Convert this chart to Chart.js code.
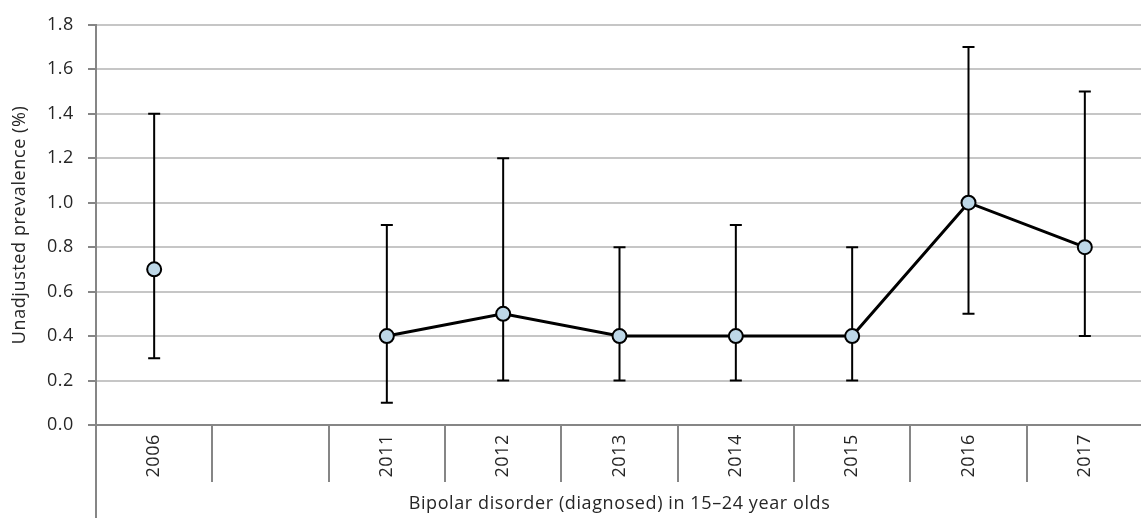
<!DOCTYPE html>
<html>
<head>
<meta charset="utf-8">
<script src="https://cdn.jsdelivr.net/npm/chart.js@4/dist/chart.umd.min.js"></script>
<style>
  html, body { margin: 0; padding: 0; background: #fff; overflow: hidden; }
  #wrap { width: 1152px; height: 518px; }
</style>
</head>
<body>
<div id="wrap"><canvas id="prevalenceChart" width="1152" height="518"></canvas></div>
<script>
'use strict';

var categories = ['2006', '', '2011', '2012', '2013', '2014', '2015', '2016', '2017'];
var prevalence = [0.7, null, 0.4, 0.5, 0.4, 0.4, 0.4, 1.0, 0.8];
var lowerCI = [0.3, null, 0.1, 0.2, 0.2, 0.2, 0.2, 0.5, 0.4];
var upperCI = [1.4, null, 0.9, 1.2, 0.8, 0.9, 0.8, 1.7, 1.5];
var yTicks = [0, 0.2, 0.4, 0.6, 0.8, 1.0, 1.2, 1.4, 1.6, 1.8];

var xTitle = 'Bipolar disorder (diagnosed) in 15\u201324 year olds';
var yTitle = 'Unadjusted prevalence (%)';

var fontFamily = '"Open Sans", "Noto Sans", sans-serif';
var fontSize = 18;
var textColor = '#262626';
var axisColor = '#868686';

/* slightly wider text, closer to the original font */
var spacing = {
	id: 'spacing',
	beforeUpdate: function (chart) { chart.ctx.letterSpacing = '0.6px'; },
	beforeDraw: function (chart) { chart.ctx.letterSpacing = '0.6px'; }
};

/* error bars behind the points */
var errorBars = {
	id: 'errorBars',
	beforeDatasetsDraw: function (chart) {
		var ctx = chart.ctx;
		var x = chart.scales.x;
		var y = chart.scales.y;
		ctx.save();
		ctx.strokeStyle = '#000';
		ctx.lineWidth = 2;
		for (var i = 0; i < categories.length; i++) {
			if (lowerCI[i] === null) continue;
			var px = x.getPixelForValue(i);
			var lo = y.getPixelForValue(lowerCI[i]);
			var hi = y.getPixelForValue(upperCI[i]);
			ctx.beginPath();
			ctx.moveTo(px, lo);
			ctx.lineTo(px, hi);
			ctx.moveTo(px - 6, lo);
			ctx.lineTo(px + 6, lo);
			ctx.moveTo(px - 6, hi);
			ctx.lineTo(px + 6, hi);
			ctx.stroke();
		}
		ctx.restore();
	}
};

/* y axis line running down through the category area, plus x axis title */
var axisExtras = {
	id: 'axisExtras',
	afterDraw: function (chart) {
		var ctx = chart.ctx;
		var area = chart.chartArea;
		ctx.save();
		ctx.strokeStyle = axisColor;
		ctx.lineWidth = 2;
		ctx.beginPath();
		ctx.moveTo(area.left, area.bottom);
		ctx.lineTo(area.left, chart.height);
		ctx.stroke();

		ctx.fillStyle = textColor;
		ctx.font = fontSize + 'px ' + fontFamily;
		ctx.textAlign = 'center';
		ctx.textBaseline = 'alphabetic';
		ctx.fillText(xTitle, (area.left + area.right) / 2, chart.height - 9);
		ctx.restore();
	}
};

var chartCtx = document.getElementById('prevalenceChart').getContext('2d');
var chart = new Chart(chartCtx, {
	type: 'line',
	data: {
		labels: categories,
		datasets: [{
			label: 'Prevalence',
			data: prevalence,
			borderColor: '#000',
			borderWidth: 3,
			tension: 0,
			spanGaps: false,
			pointRadius: 7,
			pointBorderWidth: 2,
			pointBorderColor: '#000',
			pointBackgroundColor: '#bdd7e7',
		}]
	},
	options: {
		responsive: false,
		animation: false,
		layout: { padding: { top: 23, right: 0, left: 0, bottom: 0 } },
		plugins: {
			legend: { display: false },
			tooltip: { enabled: false }
		},
		scales: {
			x: {
				type: 'category',
				offset: true,
				grid: {
					offset: true,
					drawOnChartArea: false,
					drawTicks: true,
					tickLength: 57,
					color: axisColor,
					lineWidth: 2
				},
				border: { color: axisColor, width: 2 },
				ticks: {
					autoSkip: false,
					maxRotation: 90,
					minRotation: 90,
					padding: -48,
					color: textColor,
					font: { family: fontFamily, size: fontSize }
				},
				afterFit: function (scale) { scale.height = 93; }
			},
			y: {
				min: 0,
				max: 1.8,
				afterBuildTicks: function (scale) {
					scale.ticks = yTicks.map(function (v) { return { value: v }; });
				},
				grid: {
					color: '#c6c6c6',
					lineWidth: 2,
					tickLength: 8,
					tickColor: axisColor
				},
				border: { color: axisColor, width: 2 },
				ticks: {
					padding: 14,
					color: textColor,
					font: { family: fontFamily, size: fontSize },
					callback: function (v) { return Number(v).toFixed(1); }
				},
				title: {
					display: true,
					text: yTitle,
					color: textColor,
					font: { family: fontFamily, size: fontSize },
					padding: { top: 9, bottom: 4 }
				},
				afterFit: function (scale) { scale.width = 96; }
			}
		}
	},
	plugins: [spacing, errorBars, axisExtras]
});
</script>
</body>
</html>
